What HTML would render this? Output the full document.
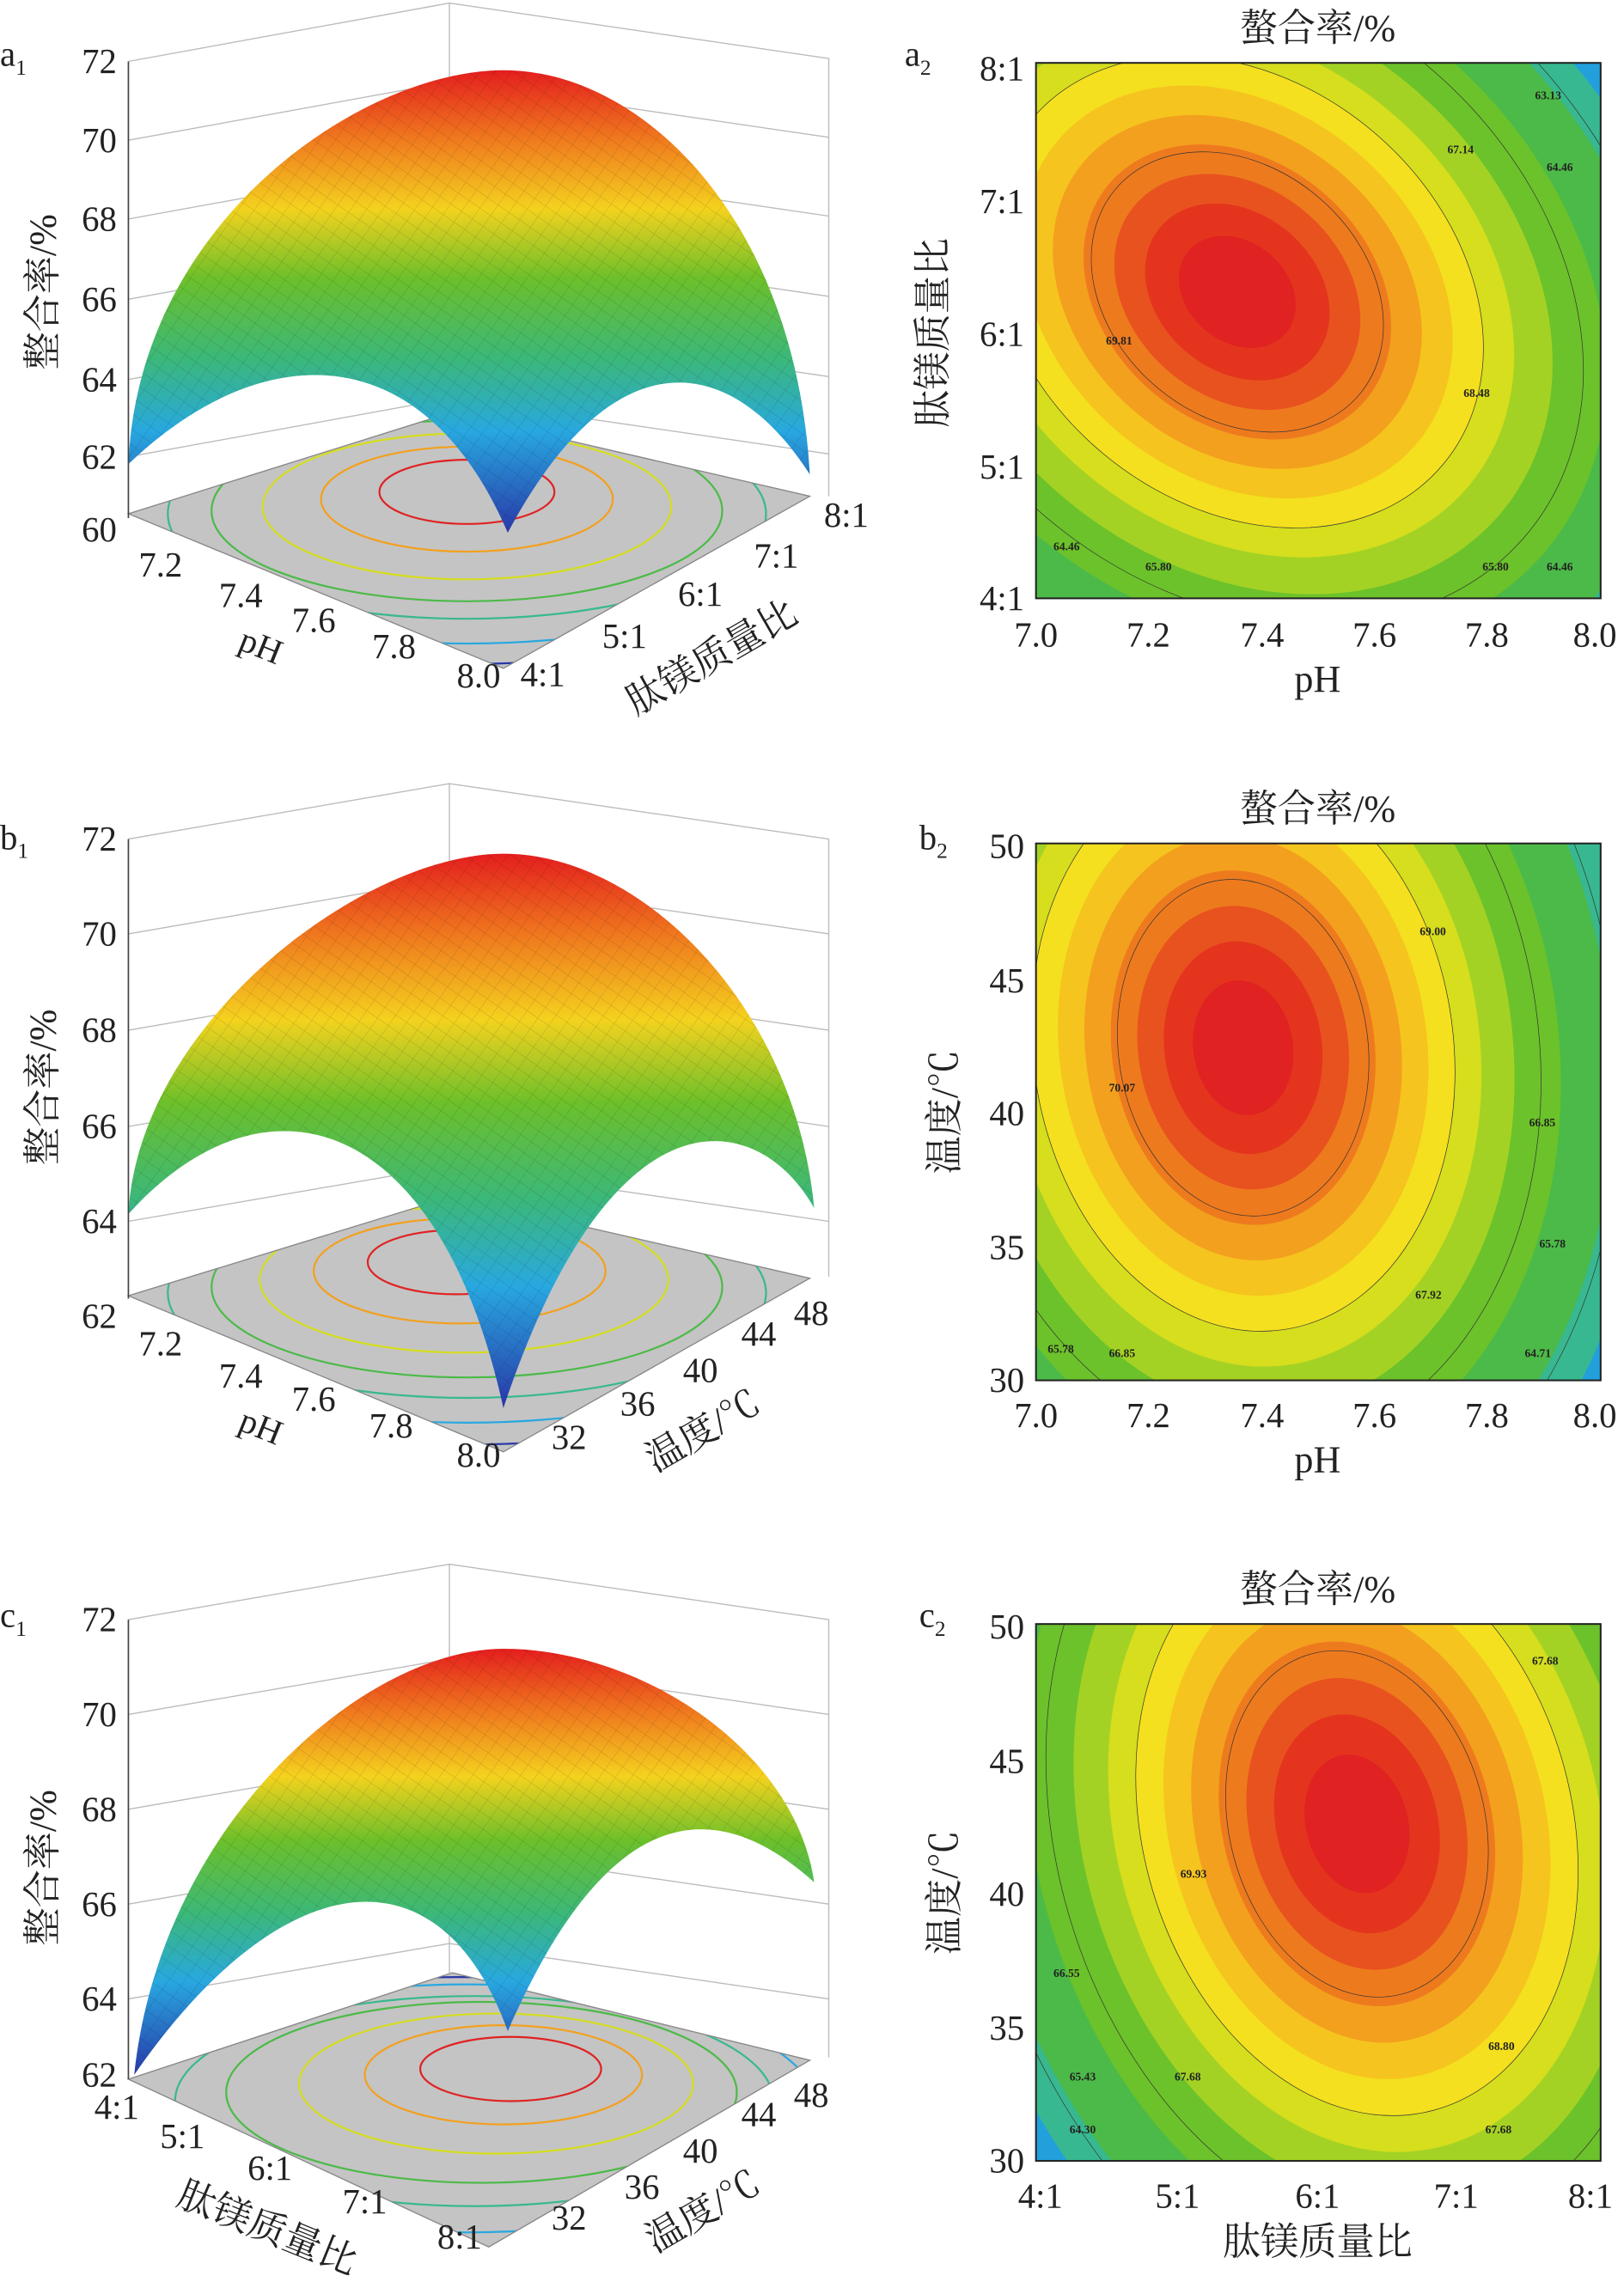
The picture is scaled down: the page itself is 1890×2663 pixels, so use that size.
<!DOCTYPE html>
<html><head><meta charset="utf-8"><style>
html,body{margin:0;padding:0;background:#fff;overflow:hidden;width:1890px;height:2663px;}
svg{display:block;}
text{font-family:"Liberation Serif","Noto Serif CJK SC",serif;fill:#222;}
</style></head><body>
<svg width="1890" height="2663" viewBox="0 0 1113 1568" xmlns="http://www.w3.org/2000/svg">
<defs>
<linearGradient id="surf" x1="0" y1="0" x2="0" y2="1">
<stop offset="0" stop-color="#e41e1e"/><stop offset="0.15" stop-color="#f07a1e"/>
<stop offset="0.3" stop-color="#f4d21e"/><stop offset="0.45" stop-color="#6cc02a"/>
<stop offset="0.62" stop-color="#3cb878"/><stop offset="0.78" stop-color="#28a8e0"/>
<stop offset="1" stop-color="#2838a8"/></linearGradient>
<pattern id="mesh" width="9" height="9" patternUnits="userSpaceOnUse" patternTransform="rotate(35)">
<path d="M0,0H9M0,0V9" stroke="#000" stroke-width="0.4" opacity="0.25"/></pattern>
<g id="bands">
<rect x="-1000" y="-1000" width="2000" height="2000" fill="#1a4ec4"/>
<circle r="330" fill="#22a0dc"/><circle r="305" fill="#38b890"/>
<circle r="280" fill="#4cba48"/><circle r="240" fill="#6cc22a"/>
<circle r="205" fill="#a4d224"/><circle r="180" fill="#d6de1e"/>
<circle r="160" fill="#f4e01e"/><circle r="140" fill="#f6c41e"/>
<circle r="120" fill="#f3a01e"/><circle r="100" fill="#ee7a1e"/>
<circle r="80" fill="#e8521e"/><circle r="60" fill="#e4341e"/>
<circle r="38" fill="#e02222"/>
<g fill="none" stroke="#333" stroke-width="0.7">
<circle r="95" vector-effect="non-scaling-stroke"/><circle r="160" vector-effect="non-scaling-stroke"/>
<circle r="225" vector-effect="non-scaling-stroke"/><circle r="285" vector-effect="non-scaling-stroke"/>
<circle r="330" vector-effect="non-scaling-stroke"/></g>
</g>
<clipPath id="ca"><rect x="710" y="43" width="387" height="367"/></clipPath>
<clipPath id="cb"><rect x="710" y="578" width="387" height="368"/></clipPath>
<clipPath id="cc"><rect x="710" y="1113" width="387" height="368"/></clipPath>
<clipPath id="fa"><polygon points="88,352 345,458 555,340 308,283"/></clipPath>
<clipPath id="fb"><polygon points="88,888 345,995 555,876 310,820"/></clipPath>
<clipPath id="fc"><polygon points="88,1425 335,1540 555,1412 310,1352"/></clipPath>
</defs>

<g clip-path="url(#ca)"><use href="#bands" transform="translate(848,200) rotate(40) scale(1.15,0.9)"/></g>
<rect x="710" y="43" width="387" height="367" fill="none" stroke="#222" stroke-width="1.2"/>
<g clip-path="url(#cb)"><use href="#bands" transform="translate(852,718) rotate(-8) scale(0.9,1.22)"/></g>
<rect x="710" y="578" width="387" height="368" fill="none" stroke="#222" stroke-width="1.2"/>
<g clip-path="url(#cc)"><use href="#bands" transform="translate(930,1250) rotate(-15) scale(0.92,1.27)"/></g>
<rect x="710" y="1113" width="387" height="368" fill="none" stroke="#222" stroke-width="1.2"/>

<g font-size="8" font-weight="bold">
<text x="1052" y="68">63.13</text><text x="992" y="105">67.14</text><text x="1060" y="117">64.46</text>
<text x="758" y="236">69.81</text><text x="1003" y="272">68.48</text>
<text x="722" y="377">64.46</text><text x="785" y="391">65.80</text><text x="1016" y="391">65.80</text><text x="1060" y="391">64.46</text>
<text x="973" y="641">69.00</text><text x="760" y="748">70.07</text><text x="1048" y="772">66.85</text><text x="1055" y="855">65.78</text>
<text x="970" y="890">67.92</text><text x="718" y="927">65.78</text><text x="760" y="930">66.85</text><text x="1045" y="930">64.71</text>
<text x="1050" y="1141">67.68</text><text x="809" y="1287">69.93</text><text x="722" y="1355">66.55</text>
<text x="1020" y="1405">68.80</text><text x="733" y="1426">65.43</text><text x="805" y="1426">67.68</text>
<text x="733" y="1462">64.30</text><text x="1018" y="1462">67.68</text>
</g>

<g font-size="26" text-anchor="middle">
<text x="903" y="28">螯合率/%</text><text x="903" y="563">螯合率/%</text><text x="903" y="1098">螯合率/%</text>
<text x="903" y="474">pH</text><text x="903" y="1009">pH</text><text x="903" y="1545">肽镁质量比</text>
<text transform="translate(648,228) rotate(-90)">肽镁质量比</text>
<text transform="translate(656,762) rotate(-90)">温度/℃</text>
<text transform="translate(656,1297) rotate(-90)">温度/℃</text>
</g>
<g font-size="24" text-anchor="middle">
<text x="710" y="443">7.0</text><text x="787" y="443">7.2</text><text x="865" y="443">7.4</text><text x="942" y="443">7.6</text><text x="1019" y="443">7.8</text><text x="1093" y="443">8.0</text>
<text x="710" y="978">7.0</text><text x="787" y="978">7.2</text><text x="865" y="978">7.4</text><text x="942" y="978">7.6</text><text x="1019" y="978">7.8</text><text x="1093" y="978">8.0</text>
<text x="713" y="1513">4:1</text><text x="807" y="1513">5:1</text><text x="903" y="1513">6:1</text><text x="998" y="1513">7:1</text><text x="1090" y="1513">8:1</text>
</g>
<g font-size="24" text-anchor="end">
<text x="702" y="55">8:1</text><text x="702" y="146">7:1</text><text x="702" y="237">6:1</text><text x="702" y="328">5:1</text><text x="702" y="418">4:1</text>
<text x="702" y="588">50</text><text x="702" y="680">45</text><text x="702" y="771">40</text><text x="702" y="863">35</text><text x="702" y="954">30</text>
<text x="702" y="1123">50</text><text x="702" y="1215">45</text><text x="702" y="1306">40</text><text x="702" y="1398">35</text><text x="702" y="1489">30</text>
</g>

<g font-size="24">
<text x="0" y="45">a<tspan font-size="15" dy="6">1</tspan></text>
<text x="620" y="45">a<tspan font-size="15" dy="6">2</tspan></text>
<text x="0" y="582">b<tspan font-size="15" dy="6">1</tspan></text>
<text x="630" y="582">b<tspan font-size="15" dy="6">2</tspan></text>
<text x="0" y="1115">c<tspan font-size="15" dy="6">1</tspan></text>
<text x="630" y="1115">c<tspan font-size="15" dy="6">2</tspan></text>
</g>

<!-- a1 -->
<g>
<g stroke="#bbb" stroke-width="0.8" fill="none">
<path d="M88,42 L308,2 L568,40 L568,340 M308,2 L308,282"/>
<path d="M88,96 L308,56 L568,94 M88,150 L308,110 L568,148 M88,205 L308,165 L568,203 M88,260 L308,220 L568,258 M88,313 L308,273 L568,311"/>
</g>
<polygon points="88,352 345,458 555,340 308,283" fill="#c4c4c4"/>
<g fill="none" stroke-width="1.3" clip-path="url(#fa)">
<ellipse cx="320" cy="360" rx="270" ry="95" stroke="#2838a8"/>
<ellipse cx="320" cy="356" rx="240" ry="85" stroke="#28a8e0"/>
<ellipse cx="320" cy="352" rx="205" ry="72" stroke="#38b890"/>
<ellipse cx="320" cy="350" rx="175" ry="62" stroke="#4cba48"/>
<ellipse cx="320" cy="347" rx="140" ry="50" stroke="#d6de1e"/>
<ellipse cx="320" cy="342" rx="100" ry="36" stroke="#f3a01e"/>
<ellipse cx="320" cy="337" rx="60" ry="22" stroke="#e02222"/>
</g>
<polygon points="88,352 345,458 555,340 308,283" fill="none" stroke="#888" stroke-width="0.8"/>
<path d="M88,318 C95,150 250,48 345,48 C440,48 545,150 555,325 C500,240 420,230 348,365 C290,230 180,230 88,318 Z" fill="url(#surf)"/>
<path d="M88,318 C95,150 250,48 345,48 C440,48 545,150 555,325 C500,240 420,230 348,365 C290,230 180,230 88,318 Z" fill="url(#mesh)"/>
<line x1="88" y1="42" x2="88" y2="355" stroke="#444"/>
<g font-size="24" text-anchor="end">
<text x="80" y="50">72</text><text x="80" y="104">70</text><text x="80" y="158">68</text><text x="80" y="213">66</text><text x="80" y="268">64</text><text x="80" y="321">62</text><text x="80" y="371">60</text>
</g>
<text font-size="26" text-anchor="middle" transform="translate(38,200) rotate(-90)">整合率/%</text>
<g font-size="24" text-anchor="middle">
<text x="110" y="395">7.2</text><text x="165" y="416">7.4</text><text x="215" y="433">7.6</text><text x="270" y="451">7.8</text><text x="328" y="471">8.0</text>
<text x="372" y="470">4:1</text><text x="428" y="444">5:1</text><text x="480" y="415">6:1</text><text x="532" y="389">7:1</text><text x="580" y="361">8:1</text>
<text transform="translate(176,450) rotate(22)">pH</text>
<text font-size="26" transform="translate(492,458) rotate(-30)">肽镁质量比</text>
</g>
</g>

<!-- b1 -->
<g>
<g stroke="#bbb" stroke-width="0.8" fill="none">
<path d="M88,575 L308,537 L568,575 L568,875 M308,537 L308,820"/>
<path d="M88,640 L308,602 L568,640 M88,706 L308,668 L568,706 M88,772 L308,734 L568,772 M88,837 L308,799 L568,837"/>
</g>
<polygon points="88,888 345,995 555,876 310,820" fill="#c4c4c4"/>
<g fill="none" stroke-width="1.3" clip-path="url(#fb)">
<ellipse cx="320" cy="895" rx="270" ry="95" stroke="#2838a8"/>
<ellipse cx="320" cy="890" rx="240" ry="85" stroke="#28a8e0"/>
<ellipse cx="320" cy="886" rx="205" ry="72" stroke="#38b890"/>
<ellipse cx="320" cy="882" rx="175" ry="62" stroke="#4cba48"/>
<ellipse cx="318" cy="877" rx="140" ry="50" stroke="#d6de1e"/>
<ellipse cx="315" cy="871" rx="100" ry="36" stroke="#f3a01e"/>
<ellipse cx="312" cy="865" rx="60" ry="22" stroke="#e02222"/>
</g>
<polygon points="88,888 345,995 555,876 310,820" fill="none" stroke="#888" stroke-width="0.8"/>
<path d="M88,832 C95,700 250,585 345,585 C440,585 545,690 558,828 C520,760 420,740 345,965 C300,760 180,730 88,832 Z" fill="url(#surf)"/>
<path d="M88,832 C95,700 250,585 345,585 C440,585 545,690 558,828 C520,760 420,740 345,965 C300,760 180,730 88,832 Z" fill="url(#mesh)"/>
<line x1="88" y1="575" x2="88" y2="890" stroke="#444"/>
<g font-size="24" text-anchor="end">
<text x="80" y="583">72</text><text x="80" y="648">70</text><text x="80" y="714">68</text><text x="80" y="780">66</text><text x="80" y="845">64</text><text x="80" y="910">62</text>
</g>
<text font-size="26" text-anchor="middle" transform="translate(38,745) rotate(-90)">整合率/%</text>
<g font-size="24" text-anchor="middle">
<text x="110" y="929">7.2</text><text x="165" y="951">7.4</text><text x="215" y="967">7.6</text><text x="268" y="985">7.8</text><text x="328" y="1005">8.0</text>
<text x="390" y="993">32</text><text x="437" y="970">36</text><text x="480" y="947">40</text><text x="520" y="922">44</text><text x="556" y="908">48</text>
<text transform="translate(176,985) rotate(22)">pH</text>
<text font-size="26" transform="translate(486,988) rotate(-30)">温度/℃</text>
</g>
</g>

<!-- c1 -->
<g>
<g stroke="#bbb" stroke-width="0.8" fill="none">
<path d="M88,1110 L308,1072 L568,1110 L568,1410 M308,1072 L308,1352"/>
<path d="M88,1175 L308,1137 L568,1175 M88,1240 L308,1202 L568,1240 M88,1305 L308,1267 L568,1305 M88,1370 L308,1332 L568,1370"/>
</g>
<polygon points="88,1425 335,1540 555,1412 310,1352" fill="#c4c4c4"/>
<g fill="none" stroke-width="1.3" clip-path="url(#fc)">
<ellipse cx="315" cy="1450" rx="270" ry="95" stroke="#2838a8"/>
<ellipse cx="320" cy="1445" rx="240" ry="85" stroke="#28a8e0"/>
<ellipse cx="325" cy="1440" rx="205" ry="72" stroke="#38b890"/>
<ellipse cx="330" cy="1434" rx="175" ry="62" stroke="#4cba48"/>
<ellipse cx="340" cy="1428" rx="135" ry="48" stroke="#d6de1e"/>
<ellipse cx="345" cy="1422" rx="95" ry="34" stroke="#f3a01e"/>
<ellipse cx="350" cy="1418" rx="62" ry="22" stroke="#e02222"/>
</g>
<polygon points="88,1425 335,1540 555,1412 310,1352" fill="none" stroke="#888" stroke-width="0.8"/>
<path d="M92,1422 C110,1250 250,1130 345,1130 C440,1130 545,1200 558,1290 C480,1220 410,1250 348,1392 C300,1260 190,1280 92,1422 Z" fill="url(#surf)"/>
<path d="M92,1422 C110,1250 250,1130 345,1130 C440,1130 545,1200 558,1290 C480,1220 410,1250 348,1392 C300,1260 190,1280 92,1422 Z" fill="url(#mesh)"/>
<line x1="88" y1="1110" x2="88" y2="1425" stroke="#444"/>
<g font-size="24" text-anchor="end">
<text x="80" y="1118">72</text><text x="80" y="1183">70</text><text x="80" y="1248">68</text><text x="80" y="1313">66</text><text x="80" y="1378">64</text><text x="80" y="1430">62</text>
</g>
<text font-size="26" text-anchor="middle" transform="translate(38,1280) rotate(-90)">整合率/%</text>
<g font-size="24" text-anchor="middle">
<text x="80" y="1452">4:1</text><text x="125" y="1472">5:1</text><text x="185" y="1494">6:1</text><text x="250" y="1517">7:1</text><text x="315" y="1541">8:1</text>
<text x="390" y="1528">32</text><text x="440" y="1507">36</text><text x="480" y="1482">40</text><text x="520" y="1457">44</text><text x="556" y="1444">48</text>
<text font-size="26" transform="translate(180,1535) rotate(22)">肽镁质量比</text>
<text font-size="26" transform="translate(486,1523) rotate(-30)">温度/℃</text>
</g>
</g>
</svg>
</body></html>
